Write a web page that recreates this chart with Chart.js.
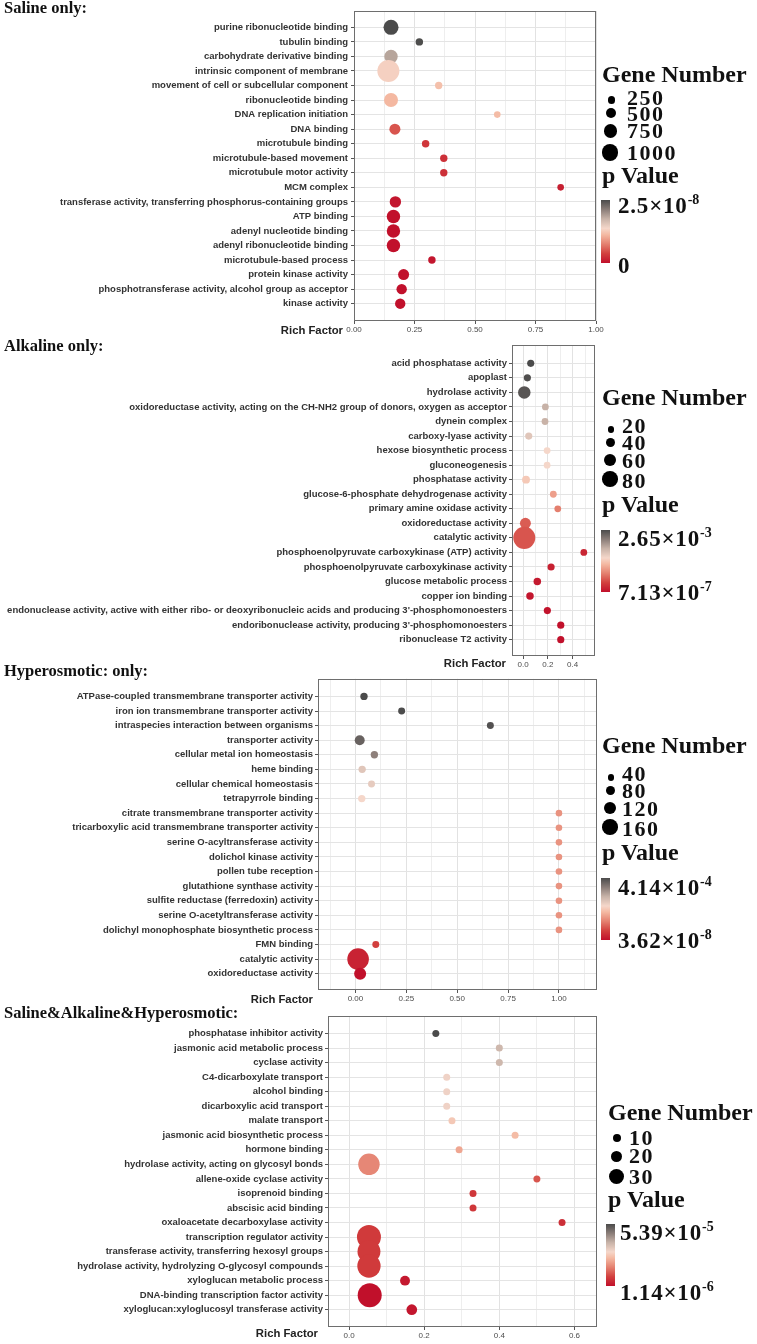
<!DOCTYPE html>
<html>
<head>
<meta charset="utf-8">
<script src="https://cdn.jsdelivr.net/npm/chart.js@4.4.1/dist/chart.umd.min.js"></script>
<style>
html,body{margin:0;padding:0;background:#fff;}
body{width:757px;height:1344px;position:relative;overflow:hidden;}
canvas{position:absolute;left:0;z-index:1;}
.t{position:absolute;white-space:nowrap;z-index:2;}
.dot{position:absolute;border-radius:50%;background:#000;z-index:2;}
.bar{position:absolute;z-index:2;}
</style>
</head>
<body>
<script>
// ================= DATA =================
// Panel 1: Saline only
const salineTerms = [
  "purine ribonucleotide binding","tubulin binding","carbohydrate derivative binding",
  "intrinsic component of membrane","movement of cell or subcellular component","ribonucleotide binding",
  "DNA replication initiation","DNA binding","microtubule binding","microtubule-based movement",
  "microtubule motor activity","MCM complex","transferase activity, transferring phosphorus-containing groups",
  "ATP binding","adenyl nucleotide binding","adenyl ribonucleotide binding","microtubule-based process",
  "protein kinase activity","phosphotransferase activity, alcohol group as acceptor","kinase activity"
];
const salineRichFactor = [0.153,0.27,0.153,0.142,0.35,0.153,0.592,0.169,0.296,0.371,0.371,0.854,0.171,0.163,0.163,0.163,0.322,0.205,0.197,0.191];
const salineGeneNumber = [475,40,360,1140,38,400,10,210,40,38,38,10,230,360,360,360,40,210,175,175];
const salinePValue = [2.5e-8,2.48e-8,1.85e-8,1.32e-8,1.18e-8,1.12e-8,1.15e-8,5.0e-9,3.0e-9,2.5e-9,2.5e-9,1.2e-9,5e-10,2e-12,3e-12,3e-12,5e-10,1e-10,1e-10,1e-10];
const salineXTicks = [0,0.25,0.5,0.75,1];
const salineXTickLabels = ["0.00","0.25","0.50","0.75","1.00"];
const salineGeneLegend = [250,500,750,1000];
const salinePLegend = ["2.5×10^-8","0"];
const salinePRange = [0,2.5e-8];

// Panel 2: Alkaline only
const alkalineTerms = [
  "acid phosphatase activity","apoplast","hydrolase activity",
  "oxidoreductase activity, acting on the CH-NH2 group of donors, oxygen as acceptor","dynein complex",
  "carboxy-lyase activity","hexose biosynthetic process","gluconeogenesis","phosphatase activity",
  "glucose-6-phosphate dehydrogenase activity","primary amine oxidase activity","oxidoreductase activity",
  "catalytic activity","phosphoenolpyruvate carboxykinase (ATP) activity","phosphoenolpyruvate carboxykinase activity",
  "glucose metabolic process","copper ion binding",
  "endonuclease activity, active with either ribo- or deoxyribonucleic acids and producing 3'-phosphomonoesters",
  "endoribonuclease activity, producing 3'-phosphomonoesters","ribonuclease T2 activity"
];
const alkalineRichFactor = [0.062,0.035,0.01,0.18,0.177,0.046,0.194,0.194,0.024,0.244,0.28,0.019,0.01,0.49,0.226,0.115,0.056,0.196,0.304,0.304];
const alkalineGeneNumber = [3,3,23,2,2,3,2,2,5,2,2,16,85,2,3,4,4,3,3,3];
const alkalinePValue = [2.65e-3,2.62e-3,2.57e-3,1.86e-3,1.85e-3,1.64e-3,1.46e-3,1.46e-3,1.33e-3,1.01e-3,7.9e-4,5.8e-4,5.3e-4,1.86e-4,1.33e-4,8.0e-5,5.4e-5,2.7e-5,7.13e-7,7.2e-7];
const alkalineXTicks = [0,0.2,0.4];
const alkalineXTickLabels = ["0.0","0.2","0.4"];
const alkalineGeneLegend = [20,40,60,80];
const alkalinePLegend = ["2.65×10^-3","7.13×10^-7"];
const alkalinePRange = [7.13e-7,2.65e-3];

// Panel 3: Hyperosmotic only
const hyperTerms = [
  "ATPase-coupled transmembrane transporter activity","iron ion transmembrane transporter activity",
  "intraspecies interaction between organisms","transporter activity","cellular metal ion homeostasis",
  "heme binding","cellular chemical homeostasis","tetrapyrrole binding",
  "citrate transmembrane transporter activity","tricarboxylic acid transmembrane transporter activity",
  "serine O-acyltransferase activity","dolichol kinase activity","pollen tube reception",
  "glutathione synthase activity","sulfite reductase (ferredoxin) activity","serine O-acetyltransferase activity",
  "dolichyl monophosphate biosynthetic process","FMN binding","catalytic activity","oxidoreductase activity"
];
const hyperRichFactor = [0.042,0.227,0.663,0.021,0.093,0.033,0.079,0.031,1,1,1,1,1,1,1,1,1,0.10,0.013,0.023];
const hyperGeneNumber = [5,3,3,22,5,5,3,5,1,1,1,1,1,1,1,1,1,3,160,39];
const hyperPValue = [4.14e-4,4.13e-4,4.06e-4,3.85e-4,3.48e-4,2.57e-4,2.48e-4,2.28e-4,1.45e-4,1.45e-4,1.45e-4,1.45e-4,1.45e-4,1.45e-4,1.45e-4,1.45e-4,1.45e-4,6.2e-5,2.5e-5,3.62e-8];
const hyperXTicks = [0,0.25,0.5,0.75,1];
const hyperXTickLabels = ["0.00","0.25","0.50","0.75","1.00"];
const hyperGeneLegend = [40,80,120,160];
const hyperPLegend = ["4.14×10^-4","3.62×10^-8"];
const hyperPRange = [3.62e-8,4.14e-4];

// Panel 4: Saline & Alkaline & Hyperosmotic
const sharedTerms = [
  "phosphatase inhibitor activity","jasmonic acid metabolic process","cyclase activity",
  "C4-dicarboxylate transport","alcohol binding","dicarboxylic acid transport","malate transport",
  "jasmonic acid biosynthetic process","hormone binding","hydrolase activity, acting on glycosyl bonds",
  "allene-oxide cyclase activity","isoprenoid binding","abscisic acid binding","oxaloacetate decarboxylase activity",
  "transcription regulator activity","transferase activity, transferring hexosyl groups",
  "hydrolase activity, hydrolyzing O-glycosyl compounds","xyloglucan metabolic process",
  "DNA-binding transcription factor activity","xyloglucan:xyloglucosyl transferase activity"
];
const sharedRichFactor = [0.231,0.4,0.4,0.26,0.26,0.26,0.274,0.442,0.293,0.053,0.5,0.33,0.33,0.567,0.053,0.053,0.053,0.149,0.055,0.167];
const sharedGeneNumber = [1,1,1,1,1,1,1,1,1,26,1,1,1,1,33,30,31,4,33,5];
const sharedPValue = [5.39e-5,3.70e-5,3.70e-5,3.12e-5,3.12e-5,3.12e-5,2.75e-5,2.54e-5,2.22e-5,1.80e-5,1.17e-5,7.5e-6,7.5e-6,6.4e-6,8.0e-6,8.0e-6,8.0e-6,2.7e-6,1.14e-6,2.2e-6];
const sharedXTicks = [0,0.2,0.4,0.6];
const sharedXTickLabels = ["0.0","0.2","0.4","0.6"];
const sharedGeneLegend = [10,20,30];
const sharedPLegend = ["5.39×10^-5","1.14×10^-6"];
const sharedPRange = [1.14e-6,5.39e-5];

// ================= STYLE / LAYOUT =================
const P_STOPS = [[0,'#c1102b'],[0.15,'#d2403e'],[0.30,'#e4806f'],[0.45,'#f4b9a2'],[0.55,'#f5d7ca'],[0.70,'#c8b3a8'],[0.85,'#8a7d78'],[1,'#4b4b4b']];
function hex2rgb(h){return [parseInt(h.slice(1,3),16),parseInt(h.slice(3,5),16),parseInt(h.slice(5,7),16)];}
function pColor(t){
  t = Math.max(0, Math.min(1, t));
  for (let i = 1; i < P_STOPS.length; i++) {
    if (t <= P_STOPS[i][0]) {
      const [t0,c0] = P_STOPS[i-1], [t1,c1] = P_STOPS[i];
      const f = (t - t0) / (t1 - t0), a = hex2rgb(c0), b = hex2rgb(c1);
      return `rgb(${a.map((v,k)=>Math.round(v+(b[k]-v)*f)).join(',')})`;
    }
  }
  return P_STOPS[P_STOPS.length-1][1];
}

const PANELS = [
  { title:"Saline only:", titleBase:14,
    terms:salineTerms, rich:salineRichFactor, genes:salineGeneNumber, pvals:salinePValue, pRange:salinePRange,
    xTicks:salineXTicks, xLabels:salineXTickLabels, geneLegend:salineGeneLegend, pLegend:salinePLegend,
    L:354, R:596, T:4, B:321, xMin:0, xMax:1, yMin:-1.123, yMax:20.19, size:[9.9,0.0977], lblPad:3,
    rf:{right:343, cy:331},
    leg:{x0:602, numX:627, gnBase:82, dots:[[611.5,100,7.3,105],[611,113.3,10,121.7],[610.5,131,13.3,138.3],[610,152.7,16.7,160]],
         pvBase:183, barX:601, barTop:200, barBot:263, pX:618, pHi:213, pLo:273} },
  { title:"Alkaline only:", titleBase:352,
    terms:alkalineTerms, rich:alkalineRichFactor, genes:alkalineGeneNumber, pvals:alkalinePValue, pRange:alkalinePRange,
    xTicks:alkalineXTicks, xLabels:alkalineXTickLabels, geneLegend:alkalineGeneLegend, pLegend:alkalinePLegend,
    L:512, R:595, T:338, B:656, xMin:-0.089, xMax:0.58, yMin:-1.258, yMax:20.12, size:[8.9,1.32], lblPad:2,
    rf:{right:506, cy:664},
    leg:{x0:602, numX:622, gnBase:405, dots:[[611,429.3,6.7,433.3],[610.5,442.7,9.3,450.7],[610,460,12.3,468.3],[610,479,15.7,488.3]],
         pvBase:511.7, barX:601, barTop:530, barBot:592, pX:618, pHi:546.7, pLo:600} },
  { title:"Hyperosmotic: only:", titleBase:677,
    terms:hyperTerms, rich:hyperRichFactor, genes:hyperGeneNumber, pvals:hyperPValue, pRange:hyperPRange,
    xTicks:hyperXTicks, xLabels:hyperXTickLabels, geneLegend:hyperGeneLegend, pLegend:hyperPLegend,
    L:318, R:597, T:672, B:990, xMin:-0.184, xMax:1.187, yMin:-1.207, yMax:20.12, size:[10.2,0.665], lblPad:2,
    rf:{right:313, cy:1000},
    leg:{x0:602, numX:622, gnBase:753, dots:[[611,777.3,6.7,781.3],[610.5,790.7,9.3,798.7],[610,808,12.3,816.3],[610,827,15.7,836.3]],
         pvBase:860, barX:601, barTop:878, barBot:940, pX:618, pHi:895, pLo:948} },
  { title:"Saline&Alkaline&Hyperosmotic:", titleBase:1015, cover:{left:0, top:1005, width:290, height:18.5},
    terms:sharedTerms, rich:sharedRichFactor, genes:sharedGeneNumber, pvals:sharedPValue, pRange:sharedPRange,
    xTicks:sharedXTicks, xLabels:sharedXTickLabels, geneLegend:sharedGeneLegend, pLegend:sharedPLegend,
    L:328, R:597, T:1008, B:1327, xMin:-0.056, xMax:0.66, yMin:-1.207, yMax:20.19, size:[8.13,4.117], lblPad:2,
    rf:{right:318, cy:1334},
    leg:{x0:608, numX:629, gnBase:1120, dots:[[617,1138,8,1145],[616.5,1156,11,1163],[616,1176,15,1184]],
         pvBase:1207, barX:606, barTop:1224, barBot:1286, pX:620, pHi:1240, pLo:1300} }
];

// ================= HELPERS =================
function addText(html, x, base, size, o = {}) {
  const d = document.createElement('div');
  d.className = 't';
  const serif = o.serif !== false;
  const fam = serif ? '"Liberation Serif", serif' : '"Liberation Sans", sans-serif';
  const k = serif ? 0.8375 : 0.8465;
  d.style.font = `${o.weight || 'bold'} ${size}px/${size}px ${fam}`;
  if (o.ls) d.style.letterSpacing = o.ls + 'px';
  d.style.top = (base - k * size) + 'px';
  if (o.right) d.style.right = (757 - x) + 'px'; else d.style.left = x + 'px';
  d.style.color = o.color || '#111';
  d.innerHTML = html;
  document.body.appendChild(d);
  return d;
}
function supText(s) {
  const [m, e] = s.split('^');
  return e ? `${m}<span style="font-size:14px;letter-spacing:0;line-height:0;position:relative;top:-9px;">${e}</span>` : m;
}

const frame = {
  id: 'frame',
  afterDraw(chart) {
    const { ctx, chartArea: a } = chart;
    ctx.save();
    ctx.strokeStyle = '#6e6e6e';
    ctx.lineWidth = 1;
    const l = Math.round(a.left) + 0.5, t = Math.round(a.top) + 0.5;
    ctx.strokeRect(l, t, Math.round(a.right) - Math.round(a.left) - 1, Math.round(a.bottom) - Math.round(a.top) - 1);
    ctx.restore();
  }
};

function xTickValues(p) {
  const d = (p.xTicks[1] - p.xTicks[0]) / 2, out = [];
  const n = 2 * (p.xTicks.length - 1);
  for (let k = -2; k <= n + 2; k++) {
    const v = +(p.xTicks[0] + k * d).toFixed(6);
    if (v >= p.xMin - 1e-9 && v <= p.xMax + 1e-9) out.push(v);
  }
  return out;
}
function majorIndex(p, v) { return p.xTicks.findIndex(m => Math.abs(m - v) < 1e-6); }

function makePanel(p) {
  const padTop = 4, padRight = 16, xH = 24;
  const W = p.R + padRight, H = padTop + (p.B - p.T) + xH;
  const cv = document.createElement('canvas');
  cv.width = W; cv.height = H;
  cv.style.width = W + 'px'; cv.style.height = H + 'px';
  cv.style.top = (p.T - padTop) + 'px';
  document.body.appendChild(cv);

  const pts = p.terms.map((term, i) => ({ x: p.rich[i], y: i, r: Math.sqrt(p.size[0] + p.size[1] * p.genes[i]) }));
  const cols = p.pvals.map(v => pColor((v - p.pRange[0]) / (p.pRange[1] - p.pRange[0])));

  new Chart(cv, {
    type: 'bubble',
    data: { datasets: [{ data: pts, backgroundColor: cols, borderWidth: 0, hoverBorderWidth: 0, hoverRadius: 0 }] },
    options: {
      responsive: false, animation: false, devicePixelRatio: 1, events: [],
      layout: { padding: { left: 0, top: padTop, right: padRight, bottom: 0 } },
      plugins: { legend: { display: false }, tooltip: { enabled: false } },
      scales: {
        x: {
          type: 'linear', min: p.xMin, max: p.xMax,
          afterBuildTicks: s => { s.ticks = xTickValues(p).map(v => ({ value: v })); },
          afterFit: s => { s.height = xH; s.paddingLeft = 0; s.paddingRight = 0; },
          ticks: {
            autoSkip: false, maxRotation: 0, minRotation: 0, padding: 1, color: '#4d4d4d',
            font: { family: 'Liberation Sans', size: 8 },
            callback: v => { const i = majorIndex(p, v); return i >= 0 ? p.xLabels[i] : ''; }
          },
          grid: {
            color: c => (c.tick && majorIndex(p, c.tick.value) >= 0) ? '#e2e2e2' : '#eeeeee',
            lineWidth: 1, tickLength: 3,
            tickColor: c => (c.tick && majorIndex(p, c.tick.value) >= 0) ? '#555' : 'rgba(0,0,0,0)'
          },
          border: { display: false }
        },
        y: {
          type: 'linear', reverse: true, min: p.yMin, max: p.yMax,
          afterBuildTicks: s => { s.ticks = p.terms.map((t, i) => ({ value: i })); },
          afterFit: s => { s.width = p.L; s.paddingTop = 0; s.paddingBottom = 0; },
          ticks: {
            autoSkip: false, padding: p.lblPad, color: '#333333',
            font: { family: 'Liberation Sans', size: 9.5, weight: 'bold' },
            callback: v => p.terms[v]
          },
          grid: { color: '#e4e4e4', lineWidth: 1, tickLength: 3, tickColor: '#555' },
          border: { display: false }
        }
      }
    },
    plugins: [frame]
  });

  // title
  const td = addText(p.title, 4, p.titleBase, 16.5, { color: '#111' });
  if (p.cover) {
    const c = p.cover;
    td.style.background = '#fff';
    td.style.left = c.left + 'px';
    td.style.paddingLeft = '4px';
    td.style.width = (c.width - 4) + 'px';
    const topNow = p.titleBase - 0.8375 * 16.5;
    td.style.top = c.top + 'px';
    td.style.paddingTop = (topNow - c.top) + 'px';
    td.style.height = (c.height - (topNow - c.top)) + 'px';
  }
  // Rich Factor
  addText('Rich Factor', p.rf.right, p.rf.cy + 4, 11.3, { serif: false, right: true, color: '#222' });

  // legend
  const g = p.leg;
  addText('Gene Number', g.x0, g.gnBase, 24);
  p.geneLegend.forEach((n, i) => {
    const [cx, cy, dd, base] = g.dots[i];
    const d = document.createElement('div');
    d.className = 'dot';
    d.style.left = (cx - dd / 2) + 'px'; d.style.top = (cy - dd / 2) + 'px';
    d.style.width = dd + 'px'; d.style.height = dd + 'px';
    document.body.appendChild(d);
    addText(String(n), g.numX, base, 22, { ls: 1.5 });
  });
  addText('p Value', g.x0, g.pvBase, 24);
  const bar = document.createElement('div');
  bar.className = 'bar';
  bar.style.left = g.barX + 'px'; bar.style.top = g.barTop + 'px';
  bar.style.width = '9px'; bar.style.height = (g.barBot - g.barTop) + 'px';
  bar.style.background = `linear-gradient(to top, ${P_STOPS.map(s => `${s[1]} ${s[0] * 100}%`).join(', ')})`;
  document.body.appendChild(bar);
  addText(supText(p.pLegend[0]), g.pX, g.pHi, 23, { ls: 0.8 });
  addText(supText(p.pLegend[1]), g.pX, g.pLo, 23, { ls: 0.8 });
}

PANELS.forEach(makePanel);
</script>
</body>
</html>
